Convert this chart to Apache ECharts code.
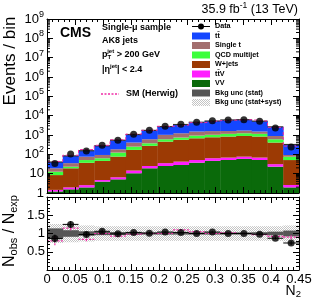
<!DOCTYPE html>
<html><head><meta charset="utf-8">
<script src="https://cdn.jsdelivr.net/npm/echarts@6/dist/echarts.min.js"></script>
<style>html,body{margin:0;padding:0;background:#fff}#c{width:316px;height:303px}</style>
</head><body><div id="c"></div>
<script>
// ---------- data ----------
const binEdges = [0, 0.028125, 0.05625, 0.084375, 0.1125, 0.140625, 0.16875, 0.196875, 0.225,
  0.253125, 0.28125, 0.309375, 0.3375, 0.365625, 0.39375, 0.421875, 0.45];
const dataObs   = [34, 104, 149, 293, 530, 1090, 1750, 2820, 3580, 4560, 5500, 6000, 6200, 5100, 2300, 240];
const vv        = [1.2, 1.55, 1.95, 3.9, 5.1, 10.5, 19, 25, 28, 37, 46, 51, 58, 51, 23, 1.95];
const ttv       = [0.25, 0.4, 0.6, 0.8, 1.4, 4, 6, 10, 14, 14, 17, 17, 18, 17, 8, 0.65];
const wjets     = [7, 17, 34, 41, 70, 155, 250, 420, 520, 625, 700, 765, 815, 765, 375, 48];
const qcd       = [4.2, 4, 14, 17, 47, 81, 97, 146, 179, 257, 264, 316, 339, 316, 196, 25];
const singleT   = [6.3, 12, 25, 30, 59, 156, 231, 420, 489, 581, 562, 452, 470, 366, 288, 17];
const ttbar     = [21, 48, 78, 183, 353, 651, 1130, 1690, 2250, 3050, 3700, 4400, 4500, 3690, 1750, 230];
const herwig    = [43, 90, 177, 293, 570, 1110, 1750, 2820, 3250, 4340, 5500, 5880, 6200, 5260, 2500, 267];

const ratioData    = [0.86, 1.25, 0.97, 1.06, 0.99, 1.03, 1.01, 1.04, 1.03, 1.0, 1.04, 1.0, 1.0, 0.98, 0.87, 0.74];
const ratioDataErr = [0.11, 0.09, 0.07, 0.05, 0.04, 0.03, 0.03, 0.02, 0.02, 0.02, 0.02, 0.02, 0.02, 0.02, 0.03, 0.06];
const ratioHerwig    = [0.80, 1.15, 0.84, 1.0, 0.93, 0.98, 1.0, 1.0, 1.1, 1.05, 1.0, 1.02, 1.0, 0.97, 0.92, 0.9];
const ratioHerwigErr = [0.12, 0.06, 0.05, 0.04, 0.03, 0.03, 0.03, 0.02, 0.02, 0.02, 0.02, 0.02, 0.02, 0.02, 0.03, 0.06];
const statUnc  = [0.14, 0.09, 0.06, 0.045, 0.04, 0.035, 0.03, 0.03, 0.03, 0.03, 0.03, 0.03, 0.03, 0.035, 0.05, 0.08];
const totalUnc = [0.26, 0.24, 0.22, 0.2, 0.2, 0.2, 0.2, 0.2, 0.2, 0.2, 0.2, 0.2, 0.2, 0.2, 0.2, 0.22];

const xTicks = [0, 0.05, 0.1, 0.15, 0.2, 0.25, 0.3, 0.35, 0.4, 0.45];

// ---------- styling ----------
const FONT = '"Liberation Sans", Arial, Helvetica, sans-serif';
const layers = [
  {name:'VV', vals: vv, color:'#0a6a0a'},
  {name:'ttV', vals: ttv, color:'#ff1eff'},
  {name:'W+jets', vals: wjets, color:'#9c3a04'},
  {name:'QCD multijet', vals: qcd, color:'#3cff3c'},
  {name:'Single t', vals: singleT, color:'#a36e6e'},
  {name:'ttbar', vals: ttbar, color:'#1446ff'}
];
const HERWIG_COLOR = '#f02ca6';
const YMIN = 1, YMAX = 1e9;

// hatch pattern
const pc = document.createElement('canvas'); pc.width = 4; pc.height = 4;
const pg = pc.getContext('2d');
pg.fillStyle = '#ffffff'; pg.fillRect(0,0,4,4);
pg.fillStyle = '#c4c4c4';
[[0,0],[2,0],[1,1],[3,1],[0,2],[2,2],[1,3],[3,3]].forEach(p=>pg.fillRect(p[0],p[1],1,1));
const hatch = {image: pc, repeat: 'repeat'};

// ---------- build series ----------
const nb = dataObs.length;
const centers = [];
for (let i=0;i<nb;i++) centers.push((binEdges[i]+binEdges[i+1])/2);
let cum = new Array(nb).fill(0);
const series = [];
layers.forEach(L => {
  const items = [];
  for (let i=0;i<nb;i++) {
    const lo = Math.max(cum[i], YMIN), hi = cum[i] + L.vals[i];
    items.push([binEdges[i], binEdges[i+1], lo, hi]);
    cum[i] = hi;
  }
  series.push({
    type:'custom', xAxisIndex:0, yAxisIndex:0, clip:true, z:2,
    encode:{x:[0,1], y:[2,3]}, data: items, silent:true,
    renderItem: (p, api) => {
      const a = api.coord([api.value(0), api.value(2)]);
      const b = api.coord([api.value(1), api.value(3)]);
      return {type:'rect', shape:{x:a[0], y:b[1], width:b[0]-a[0]+0.4, height:a[1]-b[1]},
              style:{fill:L.color}};
    }
  });
});
const totals = cum.slice();
// top outline (stat band)
series.push({
  type:'custom', xAxisIndex:0, yAxisIndex:0, clip:true, z:3, silent:true,
  encode:{x:[0,1], y:2},
  data: totals.map((t,i)=>[binEdges[i], binEdges[i+1], t]),
  renderItem: (p, api) => {
    const a = api.coord([api.value(0), api.value(2)]);
    const b = api.coord([api.value(1), api.value(2)]);
    return {type:'line', shape:{x1:a[0], y1:a[1], x2:b[0], y2:b[1]}, style:{stroke:'#333', lineWidth:1.2}};
  }
});
// Herwig step line
const hw = herwig.map((v,i)=>[binEdges[i], v]); hw.push([binEdges[nb], herwig[nb-1]]);
series.push({type:'line', xAxisIndex:0, yAxisIndex:0, step:'end', data:hw, symbol:'none', z:4, silent:true,
  lineStyle:{color:HERWIG_COLOR, width:1, type:[3,2]}});
// data points top
series.push({type:'scatter', xAxisIndex:0, yAxisIndex:0, data: dataObs.map((v,i)=>[centers[i], v]),
  symbol:'circle', symbolSize:7, itemStyle:{color:'#000'}, z:6, silent:true});

// log minor ticks
const minorVals = [];
for (let k=0;k<9;k++) for (let m=2;m<=9;m++) minorVals.push([m*Math.pow(10,k)]);
series.push({
  type:'custom', xAxisIndex:0, yAxisIndex:0, clip:false, z:20, silent:true,
  encode:{y:0}, data:minorVals,
  renderItem: (p, api) => {
    const a = api.coord([binEdges[0], api.value(0)]);
    const b = api.coord([binEdges[nb], api.value(0)]);
    return {type:'group', children:[
      {type:'line', shape:{x1:a[0], y1:a[1], x2:a[0]+3, y2:a[1]}, style:{stroke:'#000', lineWidth:1}},
      {type:'line', shape:{x1:b[0], y1:b[1], x2:b[0]-3, y2:b[1]}, style:{stroke:'#000', lineWidth:1}}
    ]};
  }
});

// ratio bands
function bandSeries(unc, fill, z) {
  return {
    type:'custom', xAxisIndex:2, yAxisIndex:2, clip:true, z:z, silent:true,
    encode:{x:[0,1], y:[2,3]},
    data: unc.map((u,i)=>[binEdges[i], binEdges[i+1], 1-u, 1+u]),
    renderItem: (p, api) => {
      const a = api.coord([api.value(0), api.value(2)]);
      const b = api.coord([api.value(1), api.value(3)]);
      return {type:'rect', shape:{x:a[0], y:b[1], width:b[0]-a[0]+0.4, height:a[1]-b[1]}, style:{fill:fill}};
    }
  };
}
series.push(bandSeries(totalUnc, hatch, 2));
series.push(bandSeries(statUnc, '#565656', 3));
// herwig ratio
series.push({
  type:'custom', xAxisIndex:2, yAxisIndex:2, clip:true, z:4, silent:true,
  encode:{x:[0,1], y:2},
  data: ratioHerwig.map((r,i)=>[binEdges[i], binEdges[i+1], r, ratioHerwigErr[i], centers[i]]),
  renderItem: (p, api) => {
    const a = api.coord([api.value(0), api.value(2)]);
    const b = api.coord([api.value(1), api.value(2)]);
    const c1 = api.coord([api.value(4), api.value(2)-api.value(3)]);
    const c2 = api.coord([api.value(4), api.value(2)+api.value(3)]);
    return {type:'group', children:[
      {type:'line', shape:{x1:a[0], y1:a[1], x2:b[0], y2:b[1]}, style:{stroke:HERWIG_COLOR, lineWidth:1.2, lineDash:[2,1.5]}},
      {type:'line', shape:{x1:c1[0], y1:c1[1], x2:c2[0], y2:c2[1]}, style:{stroke:HERWIG_COLOR, lineWidth:1.2, lineDash:[2,1.5]}}
    ]};
  }
});
// data ratio error bars
series.push({
  type:'custom', xAxisIndex:2, yAxisIndex:2, clip:true, z:5, silent:true,
  encode:{x:[0,1], y:2},
  data: ratioData.map((r,i)=>[binEdges[i], binEdges[i+1], r, ratioDataErr[i], centers[i]]),
  renderItem: (p, api) => {
    const a = api.coord([api.value(0), api.value(2)]);
    const b = api.coord([api.value(1), api.value(2)]);
    const c1 = api.coord([api.value(4), api.value(2)-api.value(3)]);
    const c2 = api.coord([api.value(4), api.value(2)+api.value(3)]);
    return {type:'group', children:[
      {type:'line', shape:{x1:a[0], y1:a[1], x2:b[0], y2:b[1]}, style:{stroke:'#000', lineWidth:1}},
      {type:'line', shape:{x1:c1[0], y1:c1[1], x2:c2[0], y2:c2[1]}, style:{stroke:'#000', lineWidth:1}}
    ]};
  }
});
series.push({type:'scatter', xAxisIndex:2, yAxisIndex:2, data: ratioData.map((v,i)=>[centers[i], v]),
  symbol:'circle', symbolSize:7, itemStyle:{color:'#000'}, z:6, silent:true});

// ---------- axes ----------
const axLine = {show:true, onZero:false, lineStyle:{color:'#000', width:1}};
function xAxis(grid, pos, labels) {
  return {type:'value', gridIndex:grid, position:pos, min:0, max:0.45, interval:0.05, z:10,
    axisLine:axLine, splitLine:{show:false},
    axisTick:{show:true, inside:true, length:6, lineStyle:{color:'#000'}},
    minorTick:{show:true, splitNumber:5, length:3, lineStyle:{color:'#000'}},
    axisLabel:{show:labels, color:'#000', fontFamily:FONT, fontSize:13, margin:3,
      formatter: v => xTicks.some(t=>Math.abs(t-v)<1e-9) ? String(+v.toFixed(2)) : ''}};
}
const supRich = {
  a:{fontFamily:FONT, fontSize:13, color:'#000'},
  b:{fontFamily:FONT, fontSize:9, color:'#000', padding:[0,0,9,0]}
};
function yLog(pos, labels) {
  return {type:'log', logBase:10, gridIndex:0, position:pos, min:YMIN, max:YMAX, splitNumber:10, z:10,
    axisLine:axLine, splitLine:{show:false},
    axisTick:{show:true, inside:true, length:6, lineStyle:{color:'#000'}},
    axisLabel:{show:labels, margin:3, color:'#000', rich:supRich,
      formatter: v => { const e = Math.round(Math.log10(v));
        if (e===0) return '{a|1}'; if (e===1) return '{a|10}'; return '{a|10}{b|'+e+'}'; }}};
}
function yRatio(pos, labels) {
  return {type:'value', gridIndex:1, position:pos, min:0, max:2, interval:0.5, z:10,
    axisLine:axLine, splitLine:{show:false},
    axisTick:{show:true, inside:true, length:6, lineStyle:{color:'#000'}},
    minorTick:{show:true, splitNumber:5, length:3, lineStyle:{color:'#000'}},
    axisLabel:{show:labels, margin:2, color:'#000', fontFamily:FONT, fontSize:13,
      formatter: v => (v===0 || v===2) ? '' : String(v)}};
}

// ---------- graphics (texts, legend) ----------
const g = [];
function txt(x, y, text, font, opts) {
  g.push(Object.assign({type:'text', x:x, y:y, silent:true,
    style:Object.assign({text:text, font:font, fill:'#000', align:'left', verticalAlign:'middle'}, (opts&&opts.style)||{})},
    opts && opts.el || {}));
}
txt(298, 10, '{a|35.9 fb}{b|-1}{a| (13 TeV)}', '', {style:{align:'right', rich:{
  a:{fontFamily:FONT, fontSize:12.5, fill:'#000'}, b:{fontFamily:FONT, fontSize:8.5, fill:'#000', padding:[0,0,8,0]}}}});
txt(60, 33, 'CMS', 'bold 14px ' + FONT);
const lf = 'bold 9px ' + FONT;
const sf = 'bold 6px ' + FONT;
txt(102, 28, 'Single-μ sample', lf);
txt(102, 41, 'AK8 jets', lf);
txt(102, 55, '{a|p}{s|T}{u|jet}{a| > 200 GeV}', '', {style:{rich:{
  a:{font:lf}, s:{font:sf, padding:[5,0,0,0]}, u:{font:sf, padding:[0,0,7,-4]}}}});
txt(102, 70, '{a||η}{u|jet}{a|| < 2.4}', '', {style:{rich:{
  a:{font:lf}, u:{font:sf, padding:[0,0,7,0]}}}});
// SM Herwig legend
g.push({type:'line', silent:true, shape:{x1:101, y1:94, x2:119, y2:94}, style:{stroke:HERWIG_COLOR, lineWidth:1.5, lineDash:[2,1.5]}});
txt(126, 94, 'SM (Herwig)', lf);

// legend right
const legX = 192, legTX = 215, legY0 = 26.5, legDY = 9.5;
const lg = 'bold 7.2px ' + FONT;
g.push({type:'line', silent:true, shape:{x1:legX, y1:legY0, x2:legX+18, y2:legY0}, style:{stroke:'#000', lineWidth:1}});
g.push({type:'circle', silent:true, shape:{cx:legX+9, cy:legY0, r:3}, style:{fill:'#000'}});
txt(legTX, legY0, 'Data', lg);
const legItems = [
  {label:'tt̄', color:layers[5].color},
  {label:'Single t', color:layers[4].color},
  {label:'QCD multijet', color:layers[3].color},
  {label:'W+jets', color:layers[2].color},
  {label:'tt̄V', color:layers[1].color},
  {label:'VV', color:layers[0].color},
  {label:'Bkg unc (stat)', color:'#565656'},
  {label:'Bkg unc (stat+syst)', color:hatch}
];
legItems.forEach((it, k) => {
  const y = legY0 + legDY*(k+1);
  g.push({type:'rect', silent:true, shape:{x:legX, y:y-3.5, width:18, height:7}, style:{fill:it.color}});
  txt(legTX, y, it.label, lg);
});

// axis titles
txt(10, 61, 'Events / bin', '17px ' + FONT, {style:{align:'center'}, el:{rotation:Math.PI/2}});
txt(10, 231, '{a|N}{s|obs}{a| / N}{s|exp}', '', {style:{align:'center', rich:{
  a:{fontFamily:FONT, fontSize:16, fill:'#000'}, s:{fontFamily:FONT, fontSize:11, fill:'#000', padding:[7,0,0,0]}}},
  el:{rotation:Math.PI/2}});
txt(301, 291, '{a|N}{s|2}', '', {style:{align:'right', rich:{
  a:{fontFamily:FONT, fontSize:14, fill:'#000'}, s:{fontFamily:FONT, fontSize:9.5, fill:'#000', padding:[6,0,0,0]}}}});

const option = {
  animation:false,
  backgroundColor:'#fff',
  grid:[
    {left:47, top:19, width:252, height:174},
    {left:47, top:197, width:252, height:73}
  ],
  xAxis:[xAxis(0,'bottom',false), xAxis(0,'top',false), xAxis(1,'bottom',true), xAxis(1,'top',false)],
  yAxis:[yLog('left',true), yLog('right',false), yRatio('left',true), yRatio('right',false)],
  series: series,
  graphic: g
};
const chart = echarts.init(document.getElementById('c'));
chart.setOption(option);
</script>
</body></html>
